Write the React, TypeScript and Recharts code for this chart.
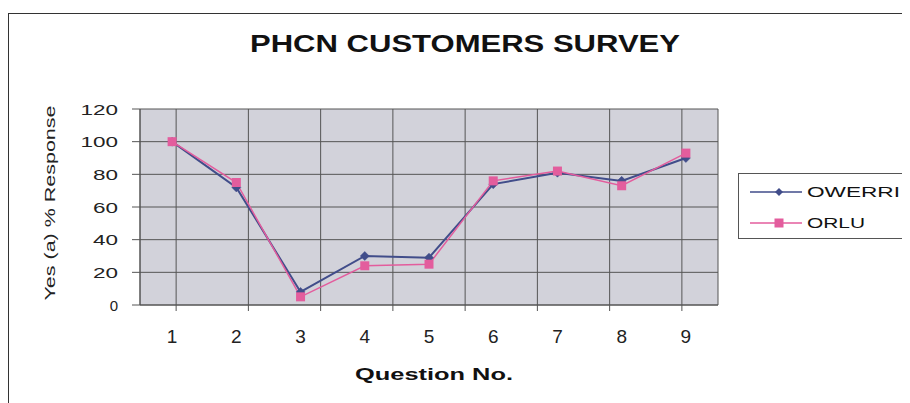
import React from "react";
import { LineChart, Line, XAxis, YAxis, CartesianGrid, Label } from "recharts";

const questions = [1, 2, 3, 4, 5, 6, 7, 8, 9];
const owerri = [100, 72, 8, 30, 29, 74, 81, 76, 90];
const orlu = [100, 75, 5, 24, 25, 76, 82, 73, 93];
const yTicks = [0, 20, 40, 60, 80, 100, 120];
// gridlines / tick marks sit between the questions
const boundaryTicks = [0.5, ...questions.map((q) => q + 0.5)];

const data = questions.map((q, i) => ({ q, OWERRI: owerri[i], ORLU: orlu[i] }));

const BLUE = "#414d8a";
const PINK = "#e35d9d";
const FONT = "'Liberation Sans', Arial, sans-serif";

const DiamondDot = (props: any) => {
  const { cx, cy } = props;
  if (cx == null || cy == null) return null;
  const s = 4.5;
  return (
    <path
      d={`M${cx},${cy - s}L${cx + s},${cy}L${cx},${cy + s}L${cx - s},${cy}Z`}
      fill={BLUE}
      stroke={BLUE}
      strokeWidth={0.5}
    />
  );
};

const SquareDot = (props: any) => {
  const { cx, cy } = props;
  if (cx == null || cy == null) return null;
  return <rect x={cx - 4.5} y={cy - 4.5} width={9} height={9} fill={PINK} />;
};

const NoTick = () => <g />;

const YTick = (props: any) => {
  const { x, y, payload } = props;
  const s = String(payload.value);
  return (
    <text
      x={x}
      y={y}
      dy="0.38em"
      textAnchor="end"
      fontFamily={FONT}
      fontSize={15}
      fill="#222"
      textLength={s.length > 1 ? s.length * 12.5 : undefined}
      lengthAdjust="spacingAndGlyphs"
    >
      {s}
    </text>
  );
};

const XTick = (props: any) => {
  const { x, y, payload } = props;
  return (
    <text x={x} y={y + 30} textAnchor="middle" fontFamily={FONT} fontSize={19} fill="#222">
      {payload.value}
    </text>
  );
};

const XTitle = (props: any) => {
  const { viewBox } = props;
  return (
    <text
      x={viewBox.x + viewBox.width / 2 + 5}
      y={viewBox.y + 67}
      textAnchor="middle"
      fontFamily={FONT}
      fontWeight="bold"
      fontSize={17}
      fill="#111"
      textLength={158}
      lengthAdjust="spacingAndGlyphs"
    >
      Question No.
    </text>
  );
};

const YTitle = (props: any) => {
  const { viewBox } = props;
  const cx = viewBox.x + 42;
  const cy = viewBox.y + viewBox.height / 2 - 4;
  return (
    <text
      x={cx}
      y={cy}
      transform={`rotate(-90 ${cx} ${cy})`}
      textAnchor="middle"
      dy="0.35em"
      fontFamily={FONT}
      fontSize={15}
      fill="#222"
      textLength={195}
      lengthAdjust="spacingAndGlyphs"
    >
      Yes (a) % Response
    </text>
  );
};

function ChartLegend() {
  const rows = [
    { name: "OWERRI", color: BLUE, diamond: true, len: 93 },
    { name: "ORLU", color: PINK, diamond: false, len: 58 },
  ];
  return (
    <div
      style={{
        position: "absolute",
        left: 730,
        top: 165,
        width: 172,
        height: 66,
        boxSizing: "border-box",
        borderTop: "1px solid #555",
        borderLeft: "1px solid #555",
        borderBottom: "1px solid #555",
        background: "#fff",
      }}
    >
      <svg width={171} height={64} style={{ display: "block" }}>
        {rows.map((r, i) => {
          const cy = 18 + i * 31;
          return (
            <g key={r.name}>
              <line x1={11} x2={63} y1={cy} y2={cy} stroke={r.color} strokeWidth={1.5} />
              {r.diamond ? (
                <path d={`M40,${cy - 4}L44,${cy}L40,${cy + 4}L36,${cy}Z`} fill={r.color} />
              ) : (
                <rect x={35.5} y={cy - 4.5} width={9} height={9} fill={r.color} />
              )}
              <text
                x={68}
                y={cy}
                dy="0.36em"
                fontFamily={FONT}
                fontSize={15}
                fill="#111"
                textLength={r.len}
                lengthAdjust="spacingAndGlyphs"
              >
                {r.name}
              </text>
            </g>
          );
        })}
      </svg>
    </div>
  );
}

export default function App() {
  return (
    <div
      style={{
        position: "relative",
        width: 902,
        height: 395,
        background: "#fff",
        overflow: "hidden",
      }}
    >
      <div
        style={{
          position: "absolute",
          left: 0,
          top: 5,
          width: 902,
          height: 390,
          borderTop: "1.5px solid #333",
          borderLeft: "1.5px solid #333",
          boxSizing: "border-box",
        }}
      />
      <svg style={{ position: "absolute", left: 0, top: 0 }} width={902} height={60}>
        <text
          x={457}
          y={44}
          textAnchor="middle"
          fontFamily={FONT}
          fontWeight="bold"
          fontSize={24}
          fill="#111"
          textLength={430}
          lengthAdjust="spacingAndGlyphs"
        >
          PHCN CUSTOMERS SURVEY
        </text>
      </svg>
      <div style={{ position: "absolute", left: 0, top: 0 }}>
        <LineChart
          width={720}
          height={387}
          data={data}
          margin={{ top: 101, right: 10, left: 0, bottom: 0 }}
        >
          <CartesianGrid
            xAxisId="grid"
            stroke="#555"
            strokeWidth={1}
            fill="#d2d2da"
            fillOpacity={1}
          />
          <XAxis
            xAxisId="grid"
            type="number"
            domain={[0.5, 9.5]}
            ticks={boundaryTicks}
            tick={NoTick}
            tickSize={6}
            height={8}
            stroke="#555"
            interval={0}
          />
          <XAxis
            xAxisId="main"
            dataKey="q"
            type="number"
            domain={[0.5, 9.5]}
            ticks={questions}
            interval={0}
            axisLine={false}
            tickLine={false}
            tickSize={0}
            tickMargin={0}
            tick={<XTick />}
            height={82}
          >
            <Label content={<XTitle />} />
          </XAxis>
          <YAxis
            domain={[0, 120]}
            ticks={yTicks}
            interval={0}
            width={132}
            tickSize={8}
            tickMargin={14}
            stroke="#555"
            tick={<YTick />}
          >
            <Label content={<YTitle />} />
          </YAxis>
          <Line
            xAxisId="main"
            dataKey="OWERRI"
            stroke={BLUE}
            strokeWidth={2}
            dot={<DiamondDot />}
            activeDot={false}
            isAnimationActive={false}
          />
          <Line
            xAxisId="main"
            dataKey="ORLU"
            stroke={PINK}
            strokeWidth={1.5}
            dot={<SquareDot />}
            activeDot={false}
            isAnimationActive={false}
          />
        </LineChart>
      </div>
      <ChartLegend />
    </div>
  );
}
